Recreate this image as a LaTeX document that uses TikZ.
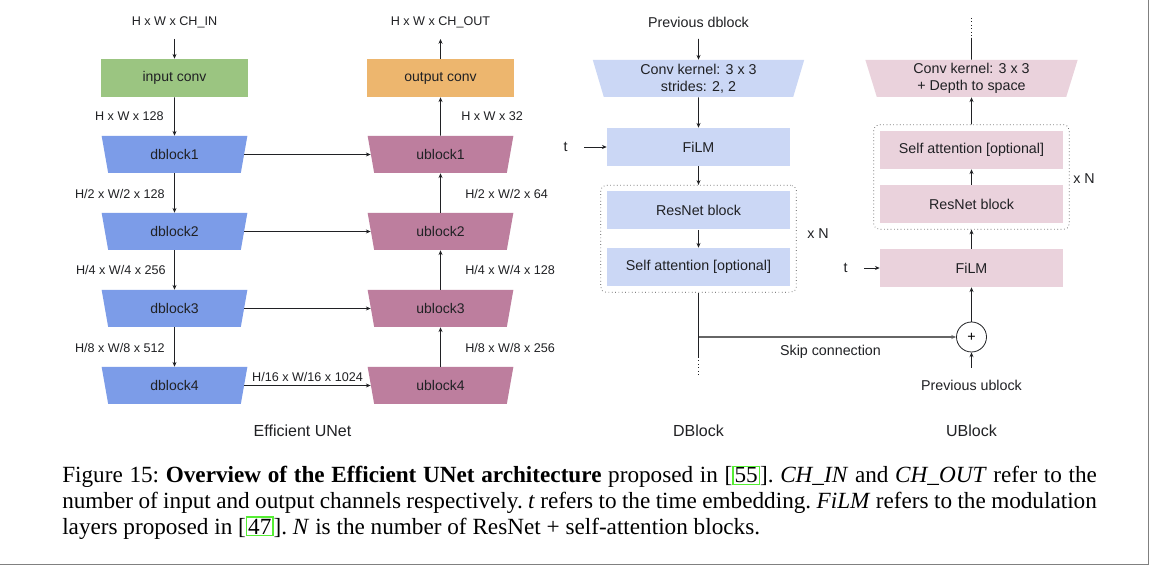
\documentclass[tikz,border=0pt]{standalone}
\usepackage{fontspec}
\setmainfont{Liberation Sans}
\newfontfamily\capfont{Liberation Serif}
\usetikzlibrary{shapes.geometric,arrows.meta,fit}
\definecolor{ingreen}{HTML}{9BC581}
\definecolor{outorange}{HTML}{EDB66E}
\definecolor{dblue}{HTML}{7C9CE8}
\definecolor{umauve}{HTML}{BD7E9E}
\definecolor{lblue}{HTML}{CBD7F5}
\definecolor{lpink}{HTML}{EAD2DC}
\definecolor{txt}{HTML}{202124}
\definecolor{citegreen}{HTML}{55EE33}
\definecolor{bordergray}{HTML}{808080}
\newcommand\citebx[1]{{\setlength\fboxsep{0.8pt}\setlength\fboxrule{0.9pt}\fcolorbox{citegreen}{white}{#1}}}
\tikzset{
  lbl/.style={font=\fontsize{9.45}{11}\selectfont, inner sep=0, text=txt},
  btxt/.style={font=\fontsize{10.7}{12.8}\selectfont, inner sep=0, text=txt, align=center},
  ttl/.style={font=\fontsize{12}{14}\selectfont, inner sep=0, text=txt},
  unetbox/.style={rectangle, minimum width=110.25pt, minimum height=28.5pt, inner sep=0,
     font=\fontsize{10.5}{12}\selectfont, text=txt},
  traps/.style={trapezium, trapezium left angle=103, trapezium right angle=103,
     trapezium stretches=true, inner sep=0, text=txt},
  unettrap/.style={traps, minimum width=109.5pt, minimum height=27.75pt,
     font=\fontsize{10.5}{12}\selectfont},
  smallbox/.style={rectangle, minimum width=137.25pt, minimum height=28.5pt, inner sep=0,
     font=\fontsize{10.7}{12.8}\selectfont, text=txt},
  dotbox/.style={draw=black!75, dotted, rounded corners=4pt, line width=0.5pt},
  arr/.style={-{Stealth[length=3.6pt,width=3pt]}, line width=0.6pt, draw=txt},
  ln/.style={line width=0.6pt, draw=txt},
  captxt/.style={anchor=base west, inner sep=0, font=\capfont\fontsize{17.4}{20}\selectfont\frenchspacing},
}
\begin{document}
\begin{tikzpicture}[x=0.75pt,y=-0.75pt]
\useasboundingbox (0,0) rectangle (1150,566);
\fill[white] (0,0) rectangle (1150,566);

% ---------------- Efficient UNet ----------------
\node[lbl] (inlbl) at (174.5,22) {H x W x CH\_IN};
\coordinate (inlblS) at (174.5,39);
\node[unetbox, fill=ingreen] (inconv) at (174.5,78) {input conv};
\node[unettrap, fill=dblue] (d1) at (174.5,154.5) {dblock1};
\node[unettrap, fill=dblue] (d2) at (174.5,231.5) {dblock2};
\node[unettrap, fill=dblue] (d3) at (174.5,308.5) {dblock3};
\node[unettrap, fill=dblue] (d4) at (174.5,385.5) {dblock4};

\node[lbl] (outlbl) at (440.5,22) {H x W x CH\_OUT};
\coordinate (outlblS) at (440.5,39);
\node[unetbox, fill=outorange] (outconv) at (440.5,78) {output conv};
\node[unettrap, fill=umauve] (u1) at (440.5,154.5) {ublock1};
\node[unettrap, fill=umauve] (u2) at (440.5,231.5) {ublock2};
\node[unettrap, fill=umauve] (u3) at (440.5,308.5) {ublock3};
\node[unettrap, fill=umauve] (u4) at (440.5,385.5) {ublock4};

\draw[arr] (inlblS) -- (inconv.north);
\draw[arr] (inconv.south) -- (d1.north);
\draw[arr] (d1.south) -- (d2.north);
\draw[arr] (d2.south) -- (d3.north);
\draw[arr] (d3.south) -- (d4.north);

\draw[arr] (outconv.north) -- (outlblS);
\draw[arr] (u1.north) -- (outconv.south);
\draw[arr] (u2.north) -- (u1.south);
\draw[arr] (u3.north) -- (u2.south);
\draw[arr] (u4.north) -- (u3.south);

\draw[arr] (d1.east) -- (u1.west);
\draw[arr] (d2.east) -- (u2.west);
\draw[arr] (d3.east) -- (u3.west);
\draw[arr] (d4.east) -- (u4.west);

\node[lbl, anchor=east] (l1) at (164,116) {H x W x 128};
\node[lbl, anchor=east] (l2) at (165,194) {H/2 x W/2 x 128};
\node[lbl, anchor=east] (l3) at (166,270) {H/4 x W/4 x 256};
\node[lbl, anchor=east] (l4) at (165,347.5) {H/8 x W/8 x 512};
\node[lbl] (l5) at (307.5,376.5) {H/16 x W/16 x 1024};
\node[lbl, anchor=west] (r1) at (461,116) {H x W x 32};
\node[lbl, anchor=west] (r2) at (465,194) {H/2 x W/2 x 64};
\node[lbl, anchor=west] (r3) at (465,270) {H/4 x W/4 x 128};
\node[lbl, anchor=west] (r4) at (465,347.5) {H/8 x W/8 x 256};

\node[ttl] (t1) at (302.5,431) {Efficient UNet};

% ---------------- DBlock ----------------
\node[btxt] (pdb) at (698.5,22) {Previous dblock};
\coordinate (pdbS) at (698.5,39);
\node[traps, fill=lblue, minimum width=159.75pt, minimum height=27.75pt, align=center,
      font=\fontsize{10.7}{12.8}\selectfont] (dconv) at (698.5,78.5) {Conv kernel: 3 x 3\\strides: 2, 2};
\node[smallbox, fill=lblue] (dfilm) at (698.5,147) {FiLM};
\node[smallbox, fill=lblue] (dres) at (698.5,210.5) {ResNet block};
\node[smallbox, fill=lblue] (dsa) at (698.5,267) {Self attention [optional]};
\node[dotbox, fit=(dres)(dsa), inner sep=4.5pt] (dgrp) {};
\node[btxt] (dxn) at (818,233.5) {x N};
\node[btxt] (dt) at (565.5,147) {t};
\coordinate (dtS) at (584,147);
\coordinate (dsplit) at (698.5,337);
\coordinate (dsolid) at (698.5,357);
\coordinate (dend) at (698.5,376);

\draw[arr] (pdbS) -- (dconv.north);
\draw[arr] (dconv.south) -- (dfilm.north);
\draw[arr] (dtS) -- (dfilm.west);
\draw[arr] (dfilm.south) -- (dgrp.north);
\draw[arr] (dres.south) -- (dsa.north);
\draw[ln] (dgrp.south) -- (dsolid);
\draw[ln, dotted] (dsolid) -- (dend);

\node[ttl] (t2) at (698.5,431) {DBlock};

% ---------------- UBlock ----------------
\coordinate (utop) at (971.5,18);
\coordinate (umid) at (971.5,38);
\node[traps, fill=lpink, minimum width=159.75pt, minimum height=27.75pt, align=center,
      font=\fontsize{10.7}{12.8}\selectfont] (uconv) at (971.5,78.5) {Conv kernel: 3 x 3\\+ Depth to space};
\node[smallbox, fill=lpink] (usa) at (971.5,150) {Self attention [optional]};
\node[smallbox, fill=lpink] (ures) at (971.5,204) {ResNet block};
\node[dotbox, fit=(usa)(ures), inner sep=4.5pt] (ugrp) {};
\node[btxt] (uxn) at (1084,179) {x N};
\node[smallbox, fill=lpink] (ufilm) at (971.5,268) {FiLM};
\node[btxt] (ut) at (845.5,268) {t};
\coordinate (utS) at (864,268);
\node[circle, draw=txt, line width=0.6pt, minimum size=22.5pt, inner sep=0,
      font=\fontsize{10.7}{12.8}\selectfont] (plus) at (971.5,337) {+};
\node[btxt] (pub) at (971.5,385) {Previous ublock};
\coordinate (pubN) at (971.5,368);

\draw[ln, dotted] (utop) -- (umid);
\draw[ln] (uconv.north) -- (umid);
\draw[arr] (ugrp.north) -- (uconv.south);
\draw[arr] (ures.north) -- (usa.south);
\draw[arr] (ufilm.north) -- (ugrp.south);
\draw[arr] (utS) -- (ufilm.west);
\draw[arr] (plus.north) -- (ufilm.south);
\draw[arr] (pubN) -- (plus.south);

% skip connection
\draw[-{Stealth[length=3.6pt,width=3pt]}, line width=1pt, draw=black!60] (dsplit) -- (plus.west);
\node[btxt] (skl) at (830.5,351.5) {Skip connection};

\node[ttl] (t3) at (971.5,431) {UBlock};

% ---------------- caption ----------------
\node[captxt] (cap1) at (62,483)
  {\hbox to 776pt{Figure 15: \textbf{Overview of the Efficient UNet architecture} proposed in [\citebx{55}]. \textit{CH\_IN} and \textit{CH\_OUT} refer to the}};
\node[captxt] (cap2) at (62,508.5)
  {\hbox to 776pt{number of input and output channels respectively. \textit{t} refers to the time embedding. \textit{FiLM} refers to the modulation}};
\node[captxt] (cap3) at (62,534)
  {layers proposed in [\citebx{47}]. \textit{N} is the number of ResNet + self-attention blocks.};

% page frame
\draw[draw=bordergray, line width=1.1pt] (1148.5,0) -- (1148.5,564.5) -- (0,564.5);
\end{tikzpicture}
\end{document}
